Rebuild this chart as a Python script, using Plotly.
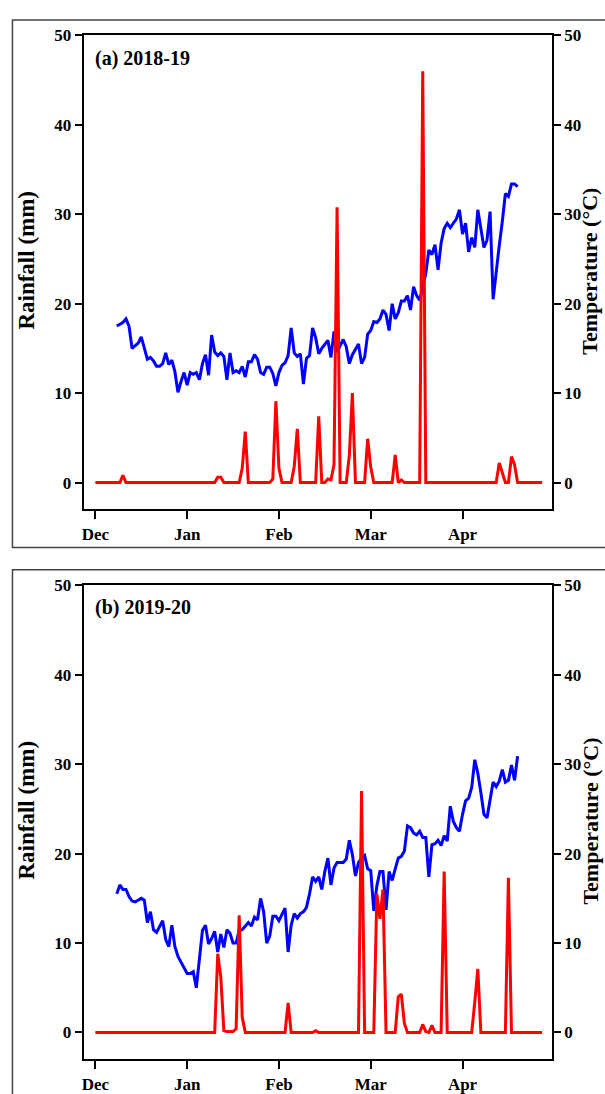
import plotly.graph_objects as go

# ---------------- data ----------------
month_ticks = [0, 30, 60, 90, 120]
month_labels = ["Dec", "Jan", "Feb", "Mar", "Apr"]

rain_start_day = 0
temp_start_day = 7

# (a) 2018-19 daily rainfall (mm), days 0..146
rain_a = [
    0, 0, 0, 0, 0, 0, 0, 0, 0, 0.8,
    0, 0, 0, 0, 0, 0, 0, 0, 0, 0,
    0, 0, 0, 0, 0, 0, 0, 0, 0, 0,
    0, 0, 0, 0, 0, 0, 0, 0, 0, 0,
    0.6, 0.6, 0, 0, 0, 0, 0, 0, 1.6, 5.7,
    0, 0, 0, 0, 0, 0, 0, 0, 0.4, 9.1,
    1.6, 0, 0, 0, 0, 1.8, 6.0, 0, 0, 0,
    0, 0, 0, 7.4, 0, 0, 0.4, 0.3, 2.0, 30.8,
    0, 0, 0, 3.0, 10.0, 0, 0, 0, 0, 4.9,
    1.7, 0, 0, 0, 0, 0, 0, 0, 3.1, 0,
    0.3, 0, 0, 0, 0, 0, 0, 46.0, 0, 0,
    0, 0, 0, 0, 0, 0, 0, 0, 0, 0,
    0, 0, 0, 0, 0, 0, 0, 0, 0, 0,
    0, 0, 2.2, 1.0, 0, 0, 2.9, 2.0, 0, 0,
    0, 0, 0, 0, 0, 0, 0,
]

# (a) 2018-19 daily temperature (degC), days 7..138
temp_a = [
    17.5, 17.7, 17.9, 18.3, 17.5, 15.0, 15.3, 15.6, 16.3, 15.0,
    13.8, 14.0, 13.6, 13.0, 13.0, 13.3, 14.5, 13.2, 13.7, 12.4,
    10.1, 11.3, 12.3, 10.9, 12.3, 12.1, 12.3, 11.5, 13.3, 14.3,
    12.0, 16.5, 14.6, 14.2, 14.5, 14.1, 11.5, 14.5, 12.3, 12.5,
    12.3, 13.0, 11.8, 13.5, 13.5, 14.3, 13.8, 12.3, 12.1, 12.9,
    12.9, 12.2, 10.8, 12.3, 13.1, 13.4, 14.2, 17.3, 14.5, 14.1,
    14.4, 11.0, 13.9, 14.2, 17.3, 16.2, 14.4, 15.0, 15.5, 15.9,
    14.0, 16.9, 14.6, 15.4, 16.0, 15.2, 13.3, 14.3, 14.9, 15.5,
    13.3, 14.0, 16.6, 17.0, 18.0, 17.9, 18.3, 19.3, 18.8, 17.0,
    20.0, 18.3, 19.0, 20.3, 20.3, 20.9, 19.3, 21.9, 20.9, 20.4,
    21.8, 23.4, 26.0, 25.5, 26.6, 23.8, 26.8, 28.4, 29.0, 28.5,
    29.0, 29.5, 30.5, 27.8, 29.0, 25.8, 27.4, 26.3, 30.5, 28.2,
    26.3, 27.1, 30.3, 20.5, 23.8, 26.5, 29.2, 32.3, 32.0, 33.4,
    33.4, 33.1,
]

# (b) 2019-20 daily rainfall (mm), days 0..146
rain_b = [
    0, 0, 0, 0, 0, 0, 0, 0, 0, 0,
    0, 0, 0, 0, 0, 0, 0, 0, 0, 0,
    0, 0, 0, 0, 0, 0, 0, 0, 0, 0,
    0, 0, 0, 0, 0, 0, 0, 0, 0, 0,
    8.8, 6.2, 0.2, 0.1, 0.1, 0.1, 0.4, 13.1, 1.7, 0,
    0, 0, 0, 0, 0, 0, 0, 0, 0, 0,
    0, 0, 0, 3.3, 0, 0, 0, 0, 0, 0,
    0, 0, 0.2, 0, 0, 0, 0, 0, 0, 0,
    0, 0, 0, 0, 0, 0, 0, 27.0, 0, 0,
    0, 0, 15.5, 12.7, 16.0, 0, 0, 0, 0, 4.0,
    4.3, 1.0, 0, 0, 0, 0, 0, 0.9, 0.1, 0,
    0.8, 0, 0, 0, 18.0, 0, 0, 0, 0, 0,
    0, 0, 0, 0, 3.4, 7.1, 0, 0, 0, 0,
    0, 0, 0, 0, 0, 17.3, 0, 0, 0, 0,
    0, 0, 0, 0, 0, 0, 0,
]

# (b) 2019-20 daily temperature (degC), days 7..138
temp_b = [
    15.5, 16.5, 16.0, 16.0, 15.2, 14.7, 14.6, 14.8, 15.0, 14.8,
    12.3, 13.5, 11.5, 11.2, 11.8, 12.5, 10.4, 9.6, 12.0, 9.6,
    8.5, 7.9, 7.2, 6.6, 6.6, 6.8, 5.0, 8.1, 11.4, 12.0,
    9.9, 10.5, 11.3, 9.0, 11.0, 9.5, 11.5, 11.1, 10.0, 10.0,
    11.4, 11.5, 11.9, 12.3, 11.9, 12.9, 12.6, 15.0, 13.5, 10.0,
    10.8, 13.0, 13.0, 12.5, 13.2, 13.9, 9.0, 12.0, 13.3, 12.8,
    13.3, 13.5, 14.0, 15.5, 17.4, 16.9, 17.4, 16.0, 18.0, 19.5,
    16.5, 18.4, 19.0, 19.0, 19.0, 19.4, 21.5, 19.9, 17.5, 19.0,
    19.5, 19.8, 18.3, 18.1, 13.6, 16.4, 18.0, 18.0, 13.7, 18.0,
    17.0, 18.3, 19.5, 19.7, 20.3, 23.1, 22.9, 22.3, 22.1, 22.5,
    21.8, 21.8, 17.4, 21.0, 21.1, 21.5, 20.9, 22.0, 21.4, 25.3,
    23.6, 22.9, 22.5, 24.4, 25.9, 26.2, 27.4, 30.5, 29.0, 26.8,
    24.4, 24.0, 25.8, 28.0, 27.5, 28.1, 29.4, 28.0, 28.2, 29.9,
    28.2, 30.9,
]

panel_labels = ["(a) 2018-19", "(b) 2019-20"]
left_title = "Rainfall (mm)"
right_title = "Temperature (°C)"
y_ticks = [0, 10, 20, 30, 40, 50]

# ---------------- figure ----------------
W, H = 605, 1094
FONT = "Liberation Serif"
RED = "#FF0000"
BLUE = "#0000FF"


def px_x(p):
    return p / W


def px_y(p):
    return 1 - p / H


x_dom = [px_x(82), px_x(551.7)]
panels = [
    dict(top=26.7, bottom=505, rain=rain_a, temp=temp_a, label=panel_labels[0]),
    dict(top=581.7, bottom=1060, rain=rain_b, temp=temp_b, label=panel_labels[1]),
]

fig = go.Figure()
tickfont = dict(family=FONT, size=17, color="black", weight="bold")

layout = dict(
    width=W, height=H, autosize=False,
    margin=dict(l=0, r=0, t=0, b=0, pad=0),
    paper_bgcolor="white", plot_bgcolor="white",
    showlegend=False,
    annotations=[], shapes=[],
)

for i, p in enumerate(panels):
    xa = "x" if i == 0 else "x2"
    base_y = 2 * i + 1        # temperature axis (right)
    over_y = 2 * i + 2        # rainfall axis (left, overlay, drawn on top)
    ya_base = "y" if base_y == 1 else f"y{base_y}"
    ya_over = f"y{over_y}"

    temp_days = list(range(temp_start_day, temp_start_day + len(p["temp"])))
    rain_days = list(range(rain_start_day, rain_start_day + len(p["rain"])))

    fig.add_trace(go.Scatter(x=temp_days, y=p["temp"], mode="lines",
                             line=dict(color=BLUE, width=3),
                             xaxis=xa, yaxis=ya_base, name="Temperature"))
    fig.add_trace(go.Scatter(x=rain_days, y=p["rain"], mode="lines",
                             line=dict(color=RED, width=3),
                             xaxis=xa, yaxis=ya_over, name="Rainfall"))

    ydom = [px_y(p["bottom"]), px_y(p["top"])]
    xkey = "xaxis" if i == 0 else "xaxis2"
    layout[xkey] = dict(
        domain=x_dom, anchor=ya_base, range=[-3.8, 149.2],
        tickvals=month_ticks, ticktext=month_labels,
        showline=True, linecolor="black", linewidth=2, mirror=True,
        ticks="outside", ticklen=8, tickwidth=1.5, tickcolor="black",
        showgrid=False, zeroline=False, tickfont=tickfont,
        ticklabelstandoff=0,
    )
    common_y = dict(
        range=[-3, 50], tickvals=y_ticks,
        showline=True, linecolor="black", linewidth=2,
        ticks="outside", ticklen=7, tickwidth=1.5, tickcolor="black",
        showgrid=False, zeroline=False, tickfont=tickfont,
    )
    base_key = "yaxis" if base_y == 1 else f"yaxis{base_y}"
    layout[base_key] = dict(common_y, domain=ydom, anchor=xa, side="right")
    layout[f"yaxis{over_y}"] = dict(common_y, overlaying=ya_base, anchor=xa, side="left")

    off = p["top"] - 26.7
    layout["annotations"] += [
        dict(text=left_title, x=px_x(25), y=px_y(253 + off), xref="paper", yref="paper",
             textangle=-90, showarrow=False, xanchor="center", yanchor="middle",
             font=dict(family=FONT, size=23, color="black", weight="bold")),
        dict(text=right_title, x=px_x(590), y=px_y(265 + off), xref="paper", yref="paper",
             textangle=-90, showarrow=False, xanchor="center", yanchor="middle",
             font=dict(family=FONT, size=22, color="black", weight="bold")),
        dict(text=p["label"], x=px_x(91), y=px_y(49.5 + off), xref="paper", yref="paper",
             showarrow=False, xanchor="left", yanchor="middle",
             font=dict(family=FONT, size=20, color="black", weight="bold")),
    ]

# outer panel frames
frame = dict(color="#444444", width=1.5)
layout["shapes"] += [
    dict(type="rect", xref="paper", yref="paper",
         x0=px_x(10.5), x1=px_x(620), y0=px_y(543.5), y1=px_y(11), line=frame),
    dict(type="rect", xref="paper", yref="paper",
         x0=px_x(10.5), x1=px_x(620), y0=px_y(1120), y1=px_y(566), line=frame),
]

fig.update_layout(**layout)
fig.write_html("out.html")
